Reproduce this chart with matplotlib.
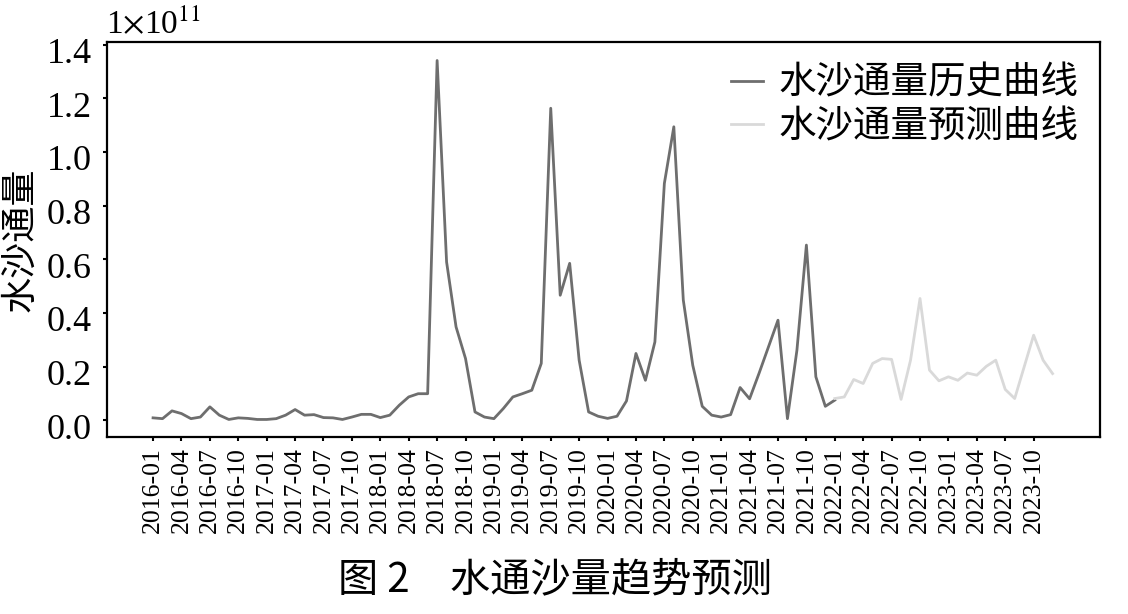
import matplotlib
matplotlib.use("Agg")
import matplotlib.pyplot as plt
import matplotlib.transforms as mtransforms
import numpy as np

plt.rcParams['font.family'] = ['Liberation Serif', 'Noto Sans CJK SC']
plt.rcParams['mathtext.fontset'] = 'stix'

# monthly values, unit 1e11
hist_months = 73          # 2016-01 .. 2022-01
hist = [0.009, 0.006, 0.035, 0.025, 0.006, 0.012, 0.050, 0.019, 0.003, 0.009,
        0.007, 0.003, 0.003, 0.006, 0.019, 0.040, 0.019, 0.021, 0.010, 0.009,
        0.003, 0.012, 0.022, 0.022, 0.010, 0.019, 0.056, 0.087, 0.099, 0.099,
        1.341, 0.590, 0.348, 0.230, 0.031, 0.012, 0.006, 0.044, 0.087, 0.099,
        0.112, 0.212, 1.163, 0.466, 0.585, 0.224, 0.031, 0.015, 0.007, 0.015,
        0.072, 0.249, 0.149, 0.292, 0.883, 1.094, 0.448, 0.205, 0.052, 0.019,
        0.012, 0.021, 0.122, 0.080, 0.175, 0.274, 0.373, 0.006, 0.261, 0.653,
        0.162, 0.052, 0.075]
# 2022-01 .. 2023-12
pred = [0.081, 0.087, 0.152, 0.137, 0.212, 0.230, 0.227, 0.078, 0.224, 0.454,
        0.187, 0.147, 0.162, 0.149, 0.176, 0.168, 0.201, 0.224, 0.115, 0.081,
        0.199, 0.317, 0.224, 0.174]

months = ["%d-%02d" % (y, m) for y in range(2016, 2024) for m in range(1, 13)]
tick_idx = list(range(0, len(months), 3))
tick_labels = [months[i] for i in tick_idx]
yticks = [0.0, 0.2, 0.4, 0.6, 0.8, 1.0, 1.2, 1.4]

fig = plt.figure(figsize=(11.28, 6.14), dpi=100)
ax = fig.add_axes([0.0949, 0.288, 0.8802, 0.6436])

x_hist = np.arange(hist_months)
x_pred = np.arange(hist_months - 1, hist_months - 1 + len(pred))
ax.plot(x_hist, hist, color='#6e6e6e', lw=2.0, label='水沙通量历史曲线')
ax.plot(x_pred, pred, color='#d9d9d9', lw=2.0, label='水沙通量预测曲线')

ax.set_xlim(-4.86, 100.0)
ax.set_ylim(-0.063, 1.41)
ax.set_yticks(yticks)
ax.set_yticklabels(["%.1f" % v for v in yticks], fontsize=26)
ax.set_xticks(tick_idx)
ax.set_xticklabels(tick_labels, rotation=90, fontsize=18.5)
ax.tick_params(axis='both', length=3, width=1.5, direction='out')
ax.tick_params(axis='y', pad=8)
ax.tick_params(axis='x', pad=4)
for s in ax.spines.values():
    s.set_linewidth(1.6)

# labels in the source sit a little below their ticks
shift = mtransforms.ScaledTranslation(0, -6 / 100, fig.dpi_scale_trans)
for lab in ax.get_yticklabels():
    lab.set_transform(lab.get_transform() + shift)

ax.set_ylabel('水沙通量', fontsize=26, family=['Noto Sans CJK SC'], labelpad=6)

fig.text(106 / 1128, 1 - 33 / 614, r'1$\times$10$^{11}$', fontsize=24, va='baseline', ha='left')

leg = ax.legend(loc='upper right', bbox_to_anchor=(0.978, 0.945), frameon=False,
                prop={'family': 'Noto Sans CJK SC', 'size': 27},
                handlelength=0.85, handletextpad=0.4, labelspacing=0.12,
                borderaxespad=0, borderpad=0)

fig.text(555 / 1128, 1 - 580 / 614, '图 2\u3000水通沙量趋势预测', fontsize=29,
         family=['Noto Sans CJK SC'], weight='medium', ha='center', va='center')

plt.savefig('out.png', dpi=100)
